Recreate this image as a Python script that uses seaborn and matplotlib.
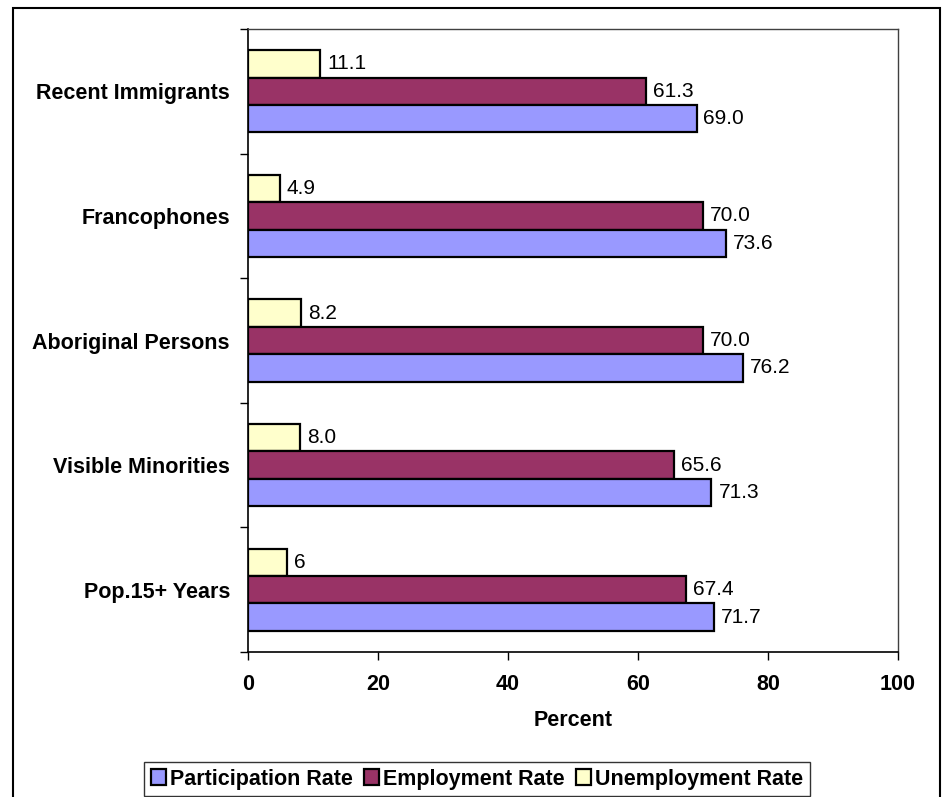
import matplotlib.pyplot as plt
from matplotlib.patches import Rectangle, Patch
import seaborn as sns
import pandas as pd

# data, top to bottom as in the chart
categories = ['Recent Immigrants', 'Francophones', 'Aboriginal Persons',
              'Visible Minorities', 'Pop.15+ Years']
participation = [69.0, 73.6, 76.2, 71.3, 71.7]
employment = [61.3, 70.0, 70.0, 65.6, 67.4]
unemployment = [11.1, 4.9, 8.2, 8.0, 6.0]
unemployment_labels = ['11.1', '4.9', '8.2', '8.0', '6']

series = ['Unemployment Rate', 'Employment Rate', 'Participation Rate']
colors = {'Participation Rate': '#9999FF',
          'Employment Rate': '#993366',
          'Unemployment Rate': '#FFFFCC'}

df = pd.DataFrame({
    'category': categories * 3,
    'series': ['Unemployment Rate'] * 5 + ['Employment Rate'] * 5 + ['Participation Rate'] * 5,
    'value': unemployment + employment + participation,
})
labels = {'Unemployment Rate': unemployment_labels,
          'Employment Rate': [f'{v:.1f}' for v in employment],
          'Participation Rate': [f'{v:.1f}' for v in participation]}

sns.set_style('ticks')
plt.rcParams['font.family'] = ['Liberation Sans', 'DejaVu Sans']
for key in ['text.color', 'axes.labelcolor', 'xtick.color', 'ytick.color']:
    plt.rcParams[key] = 'black'

fig = plt.figure(figsize=(9.44, 7.97), dpi=100)
ax = fig.add_axes([248 / 944, 1 - 652 / 797, 650 / 944, 623 / 797])

sns.barplot(data=df, y='category', x='value', hue='series', hue_order=series,
            order=categories, palette=colors, saturation=1, width=0.66, orient='h',
            edgecolor='black', linewidth=1.6, ax=ax, legend=False)

for cont, s in zip(ax.containers, series):
    ax.bar_label(cont, labels=labels[s], padding=5, fontsize=15)

ax.set_xlim(0, 100)
ax.set_ylim(4.5, -0.5)
ax.set_xticks([0, 20, 40, 60, 80, 100])
ax.tick_params(axis='x', labelsize=15.5, length=6, width=1, pad=10)
for t in ax.get_xticklabels():
    t.set_fontweight('bold')
ax.set_yticks(range(len(categories)))
ax.set_yticklabels(categories, fontsize=15.5, fontweight='bold')
ax.tick_params(axis='y', which='major', length=0, pad=13)
ax.set_yticks([i - 0.5 for i in range(len(categories) + 1)], minor=True)
ax.tick_params(axis='y', which='minor', length=6, width=1)
ax.set_xlabel('Percent', fontsize=15.5, fontweight='bold', labelpad=11)
ax.set_ylabel('')

for side in ['top', 'right']:
    ax.spines[side].set_color('#404040')
    ax.spines[side].set_linewidth(1)
for side in ['left', 'bottom']:
    ax.spines[side].set_color('black')
    ax.spines[side].set_linewidth(1.2)

# legend in the original order
legend_order = ['Participation Rate', 'Employment Rate', 'Unemployment Rate']
handles = [Patch(facecolor=colors[s], edgecolor='black', linewidth=1.6) for s in legend_order]
leg = fig.legend(handles, legend_order, loc='center', bbox_to_anchor=(477 / 944, 1 - 779 / 797),
                 ncol=3, frameon=True, fancybox=False, edgecolor='black',
                 handlelength=0.7, handleheight=0.7, handletextpad=0.2, columnspacing=0.5,
                 borderpad=0.3, prop={'size': 15.5, 'weight': 'bold'})
leg.get_frame().set_linewidth(1)

# outer chart frame
fig.patches.append(Rectangle((13 / 944, -0.01), 927 / 944, 1 - 8 / 797 + 0.01,
                             transform=fig.transFigure, fill=False,
                             edgecolor='black', linewidth=1.5))

fig.savefig('out.png', dpi=100)
